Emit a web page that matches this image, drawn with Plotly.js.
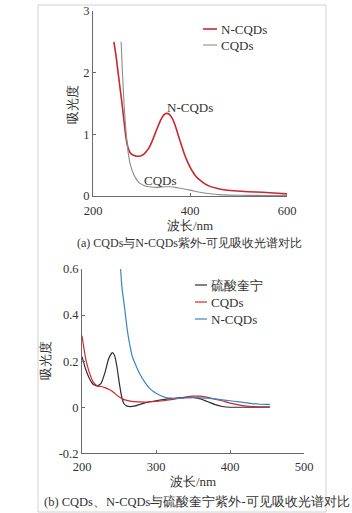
<!DOCTYPE html>
<html>
<head>
<meta charset="utf-8">
<script src="https://cdn.plot.ly/plotly-3.0.1.min.js"></script>
<style>
html,body{margin:0;padding:0;background:#fff;}
#chart{width:352px;height:513px;}
</style>
</head>
<body>
<div id="chart"></div>
<script>
// ---------- Panel (a): CQDs vs N-CQDs ----------
const aNcqdsX = [243,247,251,255,259,263,266,269,272,276,280,285,290,295,300,305,310,316,322,328,334,340,346,352,358,364,370,376,382,388,394,400,406,412,420,430,440,455,470,490,520,550,580,600];
const aNcqdsY = [2.50,2.30,2.05,1.80,1.55,1.28,1.07,0.90,0.79,0.71,0.675,0.655,0.645,0.645,0.655,0.68,0.72,0.79,0.89,1.01,1.13,1.24,1.315,1.34,1.32,1.25,1.13,0.98,0.83,0.69,0.57,0.47,0.39,0.32,0.26,0.20,0.16,0.125,0.10,0.085,0.07,0.06,0.045,0.035];
const aCqdsX = [258,261,264,267,270,273,276,280,284,288,293,298,305,312,320,330,340,350,360,370,380,390,400,410,420,430,445,460,480,520,560,600];
const aCqdsY = [2.50,1.95,1.50,1.15,0.88,0.68,0.54,0.43,0.35,0.29,0.235,0.20,0.17,0.155,0.145,0.14,0.145,0.15,0.15,0.14,0.125,0.11,0.095,0.078,0.062,0.048,0.032,0.022,0.015,0.01,0.009,0.008];

// ---------- Panel (b): quinine sulfate, CQDs, N-CQDs ----------
const bQuinX = [200,205,210,215,221,226,231,236,241,244,247,251,254,257,261,265,272,285,300,310,320,330,340,350,360,370,380,390,400,420,440,454];
const bQuinY = [0.22,0.165,0.125,0.10,0.092,0.105,0.15,0.21,0.237,0.225,0.18,0.093,0.04,0.014,0.005,0.003,0.006,0.019,0.028,0.033,0.038,0.041,0.043,0.043,0.036,0.024,0.011,0.003,0.0,0.0,0.0,0.0];
const bCqdsX = [200,205,210,215,221,226,231,236,240,245,251,256,262,270,285,300,310,320,330,340,350,360,370,380,390,400,410,420,430,440,454];
const bCqdsY = [0.31,0.21,0.15,0.11,0.092,0.09,0.085,0.078,0.072,0.058,0.043,0.034,0.029,0.024,0.022,0.025,0.028,0.033,0.038,0.044,0.048,0.048,0.043,0.035,0.027,0.018,0.011,0.006,0.003,0.002,0.002];
const bNcqdsX = [252,254,258,261,264,268,273,278,285,291,298,305,312,320,330,340,350,360,370,380,390,400,410,420,430,440,454];
const bNcqdsY = [0.608,0.52,0.42,0.34,0.28,0.22,0.18,0.145,0.108,0.083,0.065,0.052,0.043,0.039,0.038,0.040,0.042,0.041,0.039,0.036,0.032,0.028,0.024,0.020,0.016,0.013,0.012];

const aXTicks = [200,400,600];
const aYTicks = [0,1,2,3];
const bXTicks = [200,300,400,500];
const bYTicks = [-0.2,0,0.2,0.4,0.6];
const bYTickText = ['-0.2','0','0.2','0.4','0.6'];

const FONT = 'Liberation Serif';
const W = 352, H = 513;
const px = v => v / W;
const py = v => 1 - v / H;

const traces = [
  {x: aNcqdsX, y: aNcqdsY, name: 'N-CQDs', type: 'scatter', mode: 'lines',
   line: {color: '#c8282e', width: 1.6, shape: 'spline', smoothing: 0.5}, xaxis: 'x', yaxis: 'y', showlegend: false},
  {x: aCqdsX, y: aCqdsY, name: 'CQDs', type: 'scatter', mode: 'lines',
   line: {color: '#8c8c8c', width: 1.1, shape: 'spline', smoothing: 0.5}, xaxis: 'x', yaxis: 'y', showlegend: false},
  {x: bQuinX, y: bQuinY, name: '硫酸奎宁', type: 'scatter', mode: 'lines',
   line: {color: '#2e2a3a', width: 1.2, shape: 'spline', smoothing: 0.5}, xaxis: 'x2', yaxis: 'y2', showlegend: false},
  {x: bCqdsX, y: bCqdsY, name: 'CQDs', type: 'scatter', mode: 'lines',
   line: {color: '#cc2a2a', width: 1.2, shape: 'spline', smoothing: 0.5}, xaxis: 'x2', yaxis: 'y2', showlegend: false},
  {x: bNcqdsX, y: bNcqdsY, name: 'N-CQDs', type: 'scatter', mode: 'lines',
   line: {color: '#3a86c4', width: 1.2, shape: 'spline', smoothing: 0.5}, xaxis: 'x2', yaxis: 'y2', showlegend: false}
];

const axisCommon = {
  showline: true, linecolor: '#6a6a6a', linewidth: 1,
  ticks: 'inside', ticklen: 3, tickcolor: '#6a6a6a', tickwidth: 1,
  showgrid: false, zeroline: false, automargin: false,
  tickfont: {family: FONT, size: 12.5, color: '#333'}
};

// custom legends (short line samples as in the reference)
const legendA = [
  {name: 'N-CQDs', color: '#c8282e', width: 1.6, y: 29},
  {name: 'CQDs', color: '#8c8c8c', width: 1.1, y: 45}
];
const legendB = [
  {name: '硫酸奎宁', color: '#2e2a3a', width: 1.2, y: 285},
  {name: 'CQDs', color: '#cc2a2a', width: 1.2, y: 302},
  {name: 'N-CQDs', color: '#3a86c4', width: 1.2, y: 319}
];

const shapes = [
  {type: 'rect', xref: 'paper', yref: 'paper', x0: px(38), x1: px(326), y0: py(512), y1: py(5),
   line: {color: '#d0d0d0', width: 1}, fillcolor: 'rgba(0,0,0,0)', layer: 'below'}
];
const annotations = [
  {xref: 'x', yref: 'y', x: 352, y: 1.44, text: 'N-CQDs', showarrow: false, xanchor: 'left', yanchor: 'middle',
   xshift: -2, font: {family: FONT, size: 13, color: '#333'}},
  {xref: 'x', yref: 'y', x: 340, y: 0.25, text: 'CQDs', showarrow: false, xanchor: 'center', yanchor: 'middle',
   font: {family: FONT, size: 13, color: '#333'}},
  {xref: 'paper', yref: 'paper', x: px(72), y: py(105), text: '吸光度', textangle: -90, showarrow: false,
   xanchor: 'center', yanchor: 'middle', font: {family: FONT, size: 13, color: '#333'}},
  {xref: 'paper', yref: 'paper', x: px(45), y: py(361), text: '吸光度', textangle: -90, showarrow: false,
   xanchor: 'center', yanchor: 'middle', font: {family: FONT, size: 13, color: '#333'}},
  {xref: 'paper', yref: 'paper', x: px(189), y: py(243), text: '(a) CQDs与N-CQDs紫外-可见吸收光谱对比', showarrow: false,
   xanchor: 'center', yanchor: 'middle', font: {family: FONT, size: 12, color: '#333'}},
  {xref: 'paper', yref: 'paper', x: px(42), y: py(501), text: '(b) CQDs、N-CQDs与硫酸奎宁紫外-可见吸收光谱对比', showarrow: false,
   xanchor: 'left', yanchor: 'middle', font: {family: FONT, size: 12.5, color: '#333'}}
];
legendA.forEach(it => {
  shapes.push({type: 'line', xref: 'paper', yref: 'paper', x0: px(203), x1: px(217), y0: py(it.y), y1: py(it.y),
    line: {color: it.color, width: it.width}});
  annotations.push({xref: 'paper', yref: 'paper', x: px(219), y: py(it.y), text: it.name, showarrow: false,
    xanchor: 'left', yanchor: 'middle', font: {family: FONT, size: 13, color: '#333'}});
});
legendB.forEach(it => {
  shapes.push({type: 'line', xref: 'paper', yref: 'paper', x0: px(195), x1: px(207), y0: py(it.y), y1: py(it.y),
    line: {color: it.color, width: it.width}});
  annotations.push({xref: 'paper', yref: 'paper', x: px(209), y: py(it.y), text: it.name, showarrow: false,
    xanchor: 'left', yanchor: 'middle', font: {family: FONT, size: 13, color: '#333'}});
});

const layout = {
  width: W, height: H,
  margin: {l: 0, r: 0, t: 0, b: 0},
  paper_bgcolor: '#fff', plot_bgcolor: '#fff',
  font: {family: FONT, size: 12, color: '#333'},
  showlegend: false,
  xaxis: Object.assign({}, axisCommon, {
    domain: [px(93), px(287)], range: [200, 600], tickvals: aXTicks, anchor: 'y', ticklabelstandoff: 3,
    title: {text: '波长/nm', font: {family: FONT, size: 13, color: '#333'}, standoff: 2}
  }),
  yaxis: Object.assign({}, axisCommon, {
    domain: [py(196), py(11)], range: [0, 3], tickvals: aYTicks, anchor: 'x'
  }),
  xaxis2: Object.assign({}, axisCommon, {
    domain: [px(82), px(304)], range: [200, 500], tickvals: bXTicks, anchor: 'y2', ticklabelstandoff: 2,
    title: {text: '波长/nm', font: {family: FONT, size: 13, color: '#333'}, standoff: 3}
  }),
  yaxis2: Object.assign({}, axisCommon, {
    domain: [py(453.3), py(269)], range: [-0.2, 0.6], tickvals: bYTicks, ticktext: bYTickText, anchor: 'x2'
  }),
  annotations: annotations,
  shapes: shapes
};

Plotly.newPlot('chart', traces, layout, {displayModeBar: false, staticPlot: true});
</script>
</body>
</html>
